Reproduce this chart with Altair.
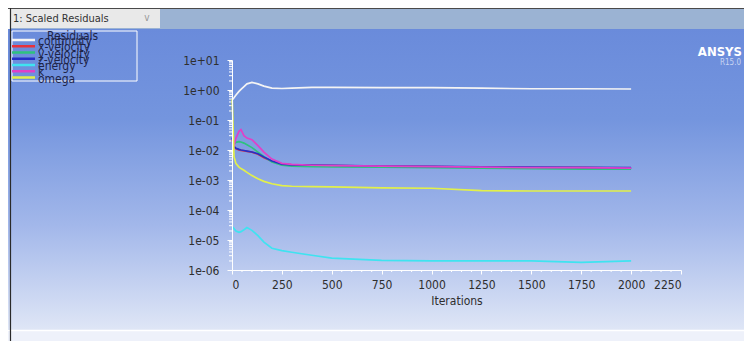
import altair as alt
import pandas as pd

# ---------------- data ----------------
iterations = [1, 10, 20, 35, 45, 60, 75, 100, 130, 160, 200, 250, 300, 400, 500, 750, 1000, 1250, 1500, 1750, 2000]
continuity = [0.47, 0.55, 0.68, 0.9, 1.05, 1.3, 1.6, 1.8, 1.6, 1.35, 1.15, 1.12, 1.15, 1.22, 1.22, 1.2, 1.2, 1.15, 1.1, 1.1, 1.08]
x_velocity = [2.2e-2, 1.3e-2, 1.1e-2, 1.0e-2, 9.7e-3, 9.3e-3, 9.0e-3, 8.5e-3, 7.2e-3, 5.5e-3, 4.2e-3, 3.4e-3, 3.2e-3, 3.1e-3, 3.0e-3, 2.9e-3, 2.8e-3, 2.7e-3, 2.6e-3, 2.6e-3, 2.5e-3]
y_velocity = [2.0e-2, 1.6e-2, 1.8e-2, 1.9e-2, 1.85e-2, 1.7e-2, 1.5e-2, 1.2e-2, 8.5e-3, 6.0e-3, 4.0e-3, 3.1e-3, 2.9e-3, 2.8e-3, 2.75e-3, 2.7e-3, 2.6e-3, 2.5e-3, 2.4e-3, 2.3e-3, 2.3e-3]
z_velocity = [2.6e-2, 1.3e-2, 1.15e-2, 1.05e-2, 1.0e-2, 9.6e-3, 9.2e-3, 8.6e-3, 7.5e-3, 5.8e-3, 4.3e-3, 3.4e-3, 3.2e-3, 3.15e-3, 3.1e-3, 2.9e-3, 2.85e-3, 2.75e-3, 2.7e-3, 2.65e-3, 2.6e-3]
energy = [2.8e-5, 2.4e-5, 2.0e-5, 1.8e-5, 1.9e-5, 2.2e-5, 2.6e-5, 2.1e-5, 1.4e-5, 8.5e-6, 5.3e-6, 4.4e-6, 3.9e-6, 3.1e-6, 2.5e-6, 2.1e-6, 2.0e-6, 2.0e-6, 2.0e-6, 1.8e-6, 2.0e-6]
k_res = [1.8e-2, 1.4e-2, 2.5e-2, 4.2e-2, 4.8e-2, 3.0e-2, 2.5e-2, 2.2e-2, 1.4e-2, 8.5e-3, 5.0e-3, 3.6e-3, 3.3e-3, 3.1e-3, 3.0e-3, 2.9e-3, 2.8e-3, 2.7e-3, 2.6e-3, 2.6e-3, 2.5e-3]
omega = [0.5, 6e-3, 3.5e-3, 2.7e-3, 2.4e-3, 2.1e-3, 1.8e-3, 1.4e-3, 1.1e-3, 9e-4, 7.5e-4, 6.5e-4, 6.2e-4, 6.0e-4, 5.9e-4, 5.5e-4, 5.3e-4, 4.4e-4, 4.3e-4, 4.3e-4, 4.3e-4]

series_names = ["continuity", "x-velocity", "y-velocity", "z-velocity", "energy", "k", "omega"]
series_values = [continuity, x_velocity, y_velocity, z_velocity, energy, k_res, omega]
series_colors = ["#f4f4f4", "#e8323c", "#2ec27e", "#2530c8", "#3fe3f0", "#e040c8", "#e2f04a"]

x_ticks = [0, 250, 500, 750, 1000, 1250, 1500, 1750, 2000, 2250]
y_ticks = [1e-6, 1e-5, 1e-4, 1e-3, 1e-2, 1e-1, 1e0, 1e1]
y_minor = [m * d for d in [1e-6, 1e-5, 1e-4, 1e-3, 1e-2, 1e-1, 1e0] for m in [2, 3, 4, 5, 6, 7, 8, 9]]
x_minor = [v for v in range(0, 2251, 50) if v % 250 != 0]

rows = []
for name, vals in zip(series_names, series_values):
    for it, v in zip(iterations, vals):
        rows.append({"series": name, "iteration": it, "residual": v})
df = pd.DataFrame(rows)
legend_df = pd.DataFrame({"series": series_names})

FONT = "DejaVu Sans Condensed, Liberation Sans Narrow, sans-serif"
W, H = 449, 210
one = pd.DataFrame({"d": [0]})

x_scale = alt.Scale(domain=[0, 2250], nice=False, zero=False)
y_scale = alt.Scale(type="log", domain=[1e-6, 10], nice=False)
color_scale = alt.Scale(domain=series_names, range=series_colors)

x_axis = alt.Axis(
    values=x_ticks, title="Iterations", format="d", labelFont=FONT, labelFontSize=12,
    labelColor="#2e2e2e", titleFont=FONT, titleFontSize=12, titleFontWeight="normal",
    titleColor="#2e2e2e", titlePadding=5, domainColor="#ffffff", tickColor="#ffffff",
    tickSize=4, labelPadding=5, grid=False, zindex=1,
)

# ---------------- decorations ----------------
grad = alt.Gradient(
    gradient="linear",
    stops=[
        alt.GradientStop(offset=0, color="#6a8bdb"),
        alt.GradientStop(offset=0.3, color="#7495de"),
        alt.GradientStop(offset=0.65, color="#a2b7ea"),
        alt.GradientStop(offset=1, color="#dfe6f6"),
    ],
    x1=0, x2=0, y1=0, y2=1,
)
bg = alt.Chart(one).mark_rect(fill=grad, clip=False).encode(
    x=alt.value(-224), x2=alt.value(512), y=alt.value(-31), y2=alt.value(270)
)
bottom_band = alt.Chart(one).mark_rect(fill="#eef1fa", clip=False).encode(
    x=alt.value(-224), x2=alt.value(512), y=alt.value(271), y2=alt.value(281)
)
bottom_sep = alt.Chart(one).mark_rule(color="#ffffff", strokeWidth=1.5, clip=False).encode(
    x=alt.value(-222), x2=alt.value(512), y=alt.value(270.5)
)
top_bar = alt.Chart(one).mark_rect(fill="#9bb3d3", clip=False).encode(
    x=alt.value(-222), x2=alt.value(512), y=alt.value(-51), y2=alt.value(-31)
)
dropdown = alt.Chart(one).mark_rect(fill="#e9e9e9", clip=False).encode(
    x=alt.value(-221), x2=alt.value(-72), y=alt.value(-51), y2=alt.value(-32)
)
dropdown_text = alt.Chart(one).mark_text(
    text="1: Scaled Residuals", align="left", baseline="middle", font=FONT, fontSize=11, color="#333333"
).encode(x=alt.value(-219), y=alt.value(-41))
chevron = alt.Chart(one).mark_text(
    text="v", align="center", baseline="middle", font=FONT, fontSize=10, color="#9a9a9a"
).encode(x=alt.value(-85), y=alt.value(-42))
top_line = alt.Chart(one).mark_rule(color="#4a4a4a", strokeWidth=1.2, clip=False).encode(
    x=alt.value(-224), x2=alt.value(512), y=alt.value(-51.5)
)
left_line = alt.Chart(one).mark_rule(color="#2a2a2a", strokeWidth=1.2, clip=False).encode(
    x=alt.value(-221.5), y=alt.value(-52), y2=alt.value(281)
)
ansys = alt.Chart(one).mark_text(
    text="ANSYS", align="right", baseline="middle", font=FONT, fontSize=13, fontWeight="bold", color="#ffffff"
).encode(x=alt.value(510), y=alt.value(-8))
release = alt.Chart(one).mark_text(
    text="R15.0", align="right", baseline="middle", font=FONT, fontSize=8, color="#c9d5f2"
).encode(x=alt.value(509), y=alt.value(3))

# custom legend (compressed rows, as in the reference)
legend_y = alt.Y("series:N", sort=series_names,
                 scale=alt.Scale(type="point", range=[-20, 17.5], padding=0), axis=None)
legend_lines = alt.Chart(legend_df).mark_rule(strokeWidth=2.5, clip=False).encode(
    y=legend_y, x=alt.value(-220), x2=alt.value(-197),
    color=alt.Color("series:N", scale=color_scale, legend=None),
)
legend_text = alt.Chart(legend_df).mark_text(
    align="left", baseline="middle", font=FONT, fontSize=12, color="#1e2448", dy=1, clip=False
).encode(y=legend_y, x=alt.value(-194), text="series:N")
legend_title = alt.Chart(one).mark_text(
    text="Residuals", align="left", baseline="middle", font=FONT, fontSize=12, color="#1e2448"
).encode(x=alt.value(-185), y=alt.value(-24))
legend_box = alt.Chart(one).mark_rect(fill=None, stroke="#ffffff", strokeWidth=1, clip=False).encode(
    x=alt.value(-220), x2=alt.value(-95), y=alt.value(-29), y2=alt.value(21)
)

# minor ticks
y_minor_ticks = alt.Chart(pd.DataFrame({"v": y_minor})).mark_rule(color="#ffffff", strokeWidth=1).encode(
    y=alt.Y("v:Q", scale=y_scale, axis=None), x=alt.value(-3), x2=alt.value(0)
)
x_minor_ticks = alt.Chart(pd.DataFrame({"v": x_minor})).mark_rule(color="#ffffff", strokeWidth=1).encode(
    x=alt.X("v:Q", scale=x_scale, axis=x_axis), y=alt.value(H), y2=alt.value(H + 2)
)

# ---------------- lines ----------------
label_expr = (
    "(round(log(datum.value)/LN10) < 0 ? '1e-' : '1e+') + "
    "(abs(round(log(datum.value)/LN10)) < 10 ? '0' : '') + abs(round(log(datum.value)/LN10))"
)
lines = alt.Chart(df).mark_line(strokeWidth=1.7).encode(
    x=alt.X("iteration:Q", scale=x_scale, axis=x_axis),
    y=alt.Y(
        "residual:Q",
        scale=y_scale,
        axis=alt.Axis(
            values=y_ticks, labelExpr=label_expr, title=None, labelFont=FONT, labelFontSize=12,
            labelColor="#2e2e2e", domainColor="#ffffff", tickColor="#ffffff", tickSize=5,
            labelPadding=8, grid=False, zindex=1,
        ),
    ),
    color=alt.Color("series:N", scale=color_scale, legend=None),
    order=alt.Order("iteration:Q"),
)

chart = alt.layer(
    bg, bottom_band, bottom_sep, top_bar, dropdown, dropdown_text, chevron, top_line, left_line,
    ansys, release, y_minor_ticks, x_minor_ticks, lines,
    legend_box, legend_lines, legend_title, legend_text,
).resolve_scale(y="independent").properties(
    width=W, height=H,
    padding={"left": 224, "top": 52, "right": 63, "bottom": 71},
    autosize=alt.AutoSizeParams(type="none"),
).configure_view(stroke=None).configure(background="#ffffff")

chart.save("out.html", embed_options={"renderer": "svg", "actions": False})
